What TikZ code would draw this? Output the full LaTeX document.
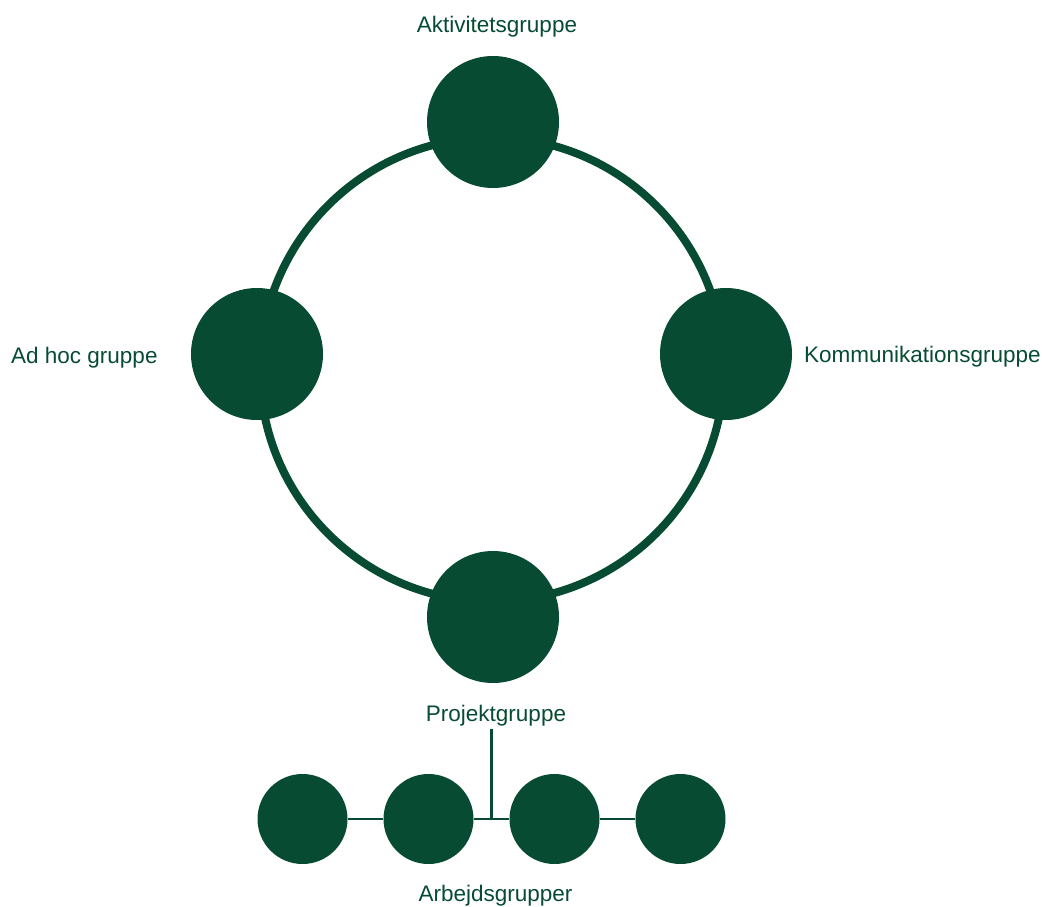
\documentclass[tikz,border=0pt]{standalone}
\usepackage{fontspec}
\setmainfont{Liberation Sans}
\usetikzlibrary{calc}

\definecolor{groupgreen}{RGB}{7,76,50}

\begin{document}
\begin{tikzpicture}[x=1pt, y=-1pt,
    bigdot/.style={circle, fill=groupgreen, inner sep=0pt, minimum size=132pt},
    smalldot/.style={circle, fill=groupgreen, inner sep=0pt, minimum size=90pt},
    grouplabel/.style={text=groupgreen, inner sep=0pt, font=\fontsize{22.5}{27}\selectfont},
    thinline/.style={draw=groupgreen, line width=2.5pt}
  ]
      \pgfmathsetmacro{\ringx}{492};
      \pgfmathsetmacro{\ringy}{369.5};
      \pgfmathsetmacro{\ringr}{232};

      \pgfmathsetmacro{\rowy}{819};
      \pgfmathsetmacro{\rowstep}{126};

      \useasboundingbox (0,0) rectangle (1042,907);

      % the ring
      \coordinate (ringc) at (\ringx,\ringy);
      \draw[groupgreen, line width=8pt] (ringc) circle[radius=\ringr];

      \node[bigdot] (akt) at (493,122) {};
      \node[bigdot] (adhoc) at (257,354) {};
      \node[bigdot] (komm) at (726,354) {};
      \node[bigdot] (proj) at (493,617) {};

      \node[grouplabel, anchor=base] (aktlabel) at (497,33) {Aktivitetsgruppe};
      \node[grouplabel, anchor=base west] (adhoclabel) at (11,363) {Ad hoc gruppe};
      \node[grouplabel, anchor=base west] (kommlabel) at (804,362) {Kommunikationsgruppe};
      \node[grouplabel, anchor=base] (projlabel) at (496,721.5) {Projektgruppe};

      % working groups
      \foreach \i in {1,...,4}
        \node[smalldot] (arb\i) at (302.5+\rowstep*\i-\rowstep, \rowy) {};

      \node[grouplabel, anchor=base] (arblabel) at (495.5,901.5) {Arbejdsgrupper};

      \draw[thinline] (arb1) -- (arb2);
      \draw[thinline] (arb2) -- (arb3);
      \draw[thinline] (arb3) -- (arb4);

      \coordinate (junction) at ($(arb2)!.5!(arb3)$);
      \draw[thinline] ($(projlabel.south -| junction)+(0,3)$) -- (junction);
    \end{tikzpicture}
\end{document}
